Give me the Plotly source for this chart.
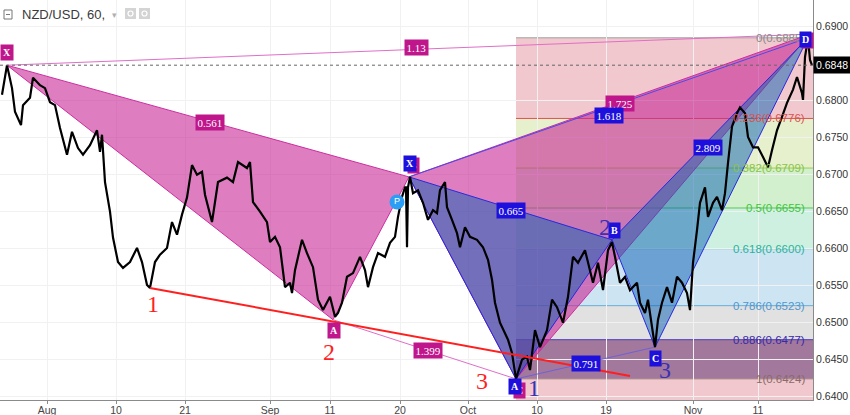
import plotly.graph_objects as go

# ---------------- data ----------------
bar_index = [2, 3, 7, 12, 15, 21, 23, 30, 33, 40, 45, 50, 55, 60, 67, 72, 78, 83, 90, 97, 100, 102,
             105, 110, 113, 118, 123, 130, 137, 142, 147, 150, 155, 160, 167, 172, 177, 182, 187, 192,
             197, 202, 205, 212, 218, 227, 233, 238, 247, 250, 253, 260, 267, 270,
             275, 280, 285, 290, 292, 295, 302, 307, 313, 318, 323, 330, 335, 338, 342, 347, 353, 360,
             365, 368, 373, 378, 385, 390, 395, 398, 402, 405, 406, 407, 408, 410, 413, 418, 423, 428,
             433, 437, 440, 445, 447, 452, 457, 460, 465, 470, 477, 483, 488, 492, 495, 500, 505, 508,
             512, 515, 516, 522, 527, 530, 535, 540,
             547, 552, 557, 563, 568, 573, 578, 585, 590, 593, 598, 603, 608, 612, 615, 620, 625, 630,
             637, 640, 645, 648, 655, 658, 662, 667, 672, 677, 682, 687, 690, 693, 697, 700, 705, 708,
             713, 717, 722, 725, 728, 732, 737, 740, 745, 748, 753, 758, 763, 768, 772, 777, 782, 787,
             793, 797, 802, 803, 805, 808, 810, 812]
close = [0.6808, 0.6817, 0.6848, 0.6817, 0.6785, 0.6767, 0.6794, 0.6804, 0.6831, 0.6821, 0.6817,
         0.6798, 0.6794, 0.6763, 0.6727, 0.6758, 0.6736, 0.6727, 0.6740, 0.6760, 0.6731, 0.6754,
         0.6690, 0.6650, 0.6615, 0.6582, 0.6574, 0.6582, 0.6601, 0.6582, 0.6551, 0.6547, 0.6582,
         0.6592, 0.6601, 0.6636, 0.6619, 0.6646, 0.6669, 0.6713, 0.6700, 0.6704, 0.6673, 0.6636,
         0.6690, 0.6696, 0.6690, 0.6717, 0.6709, 0.6717, 0.6663, 0.6650, 0.6636, 0.6609,
         0.6616, 0.6602, 0.6548, 0.6554, 0.6540, 0.6571, 0.6612, 0.6594, 0.6575, 0.6531, 0.6517,
         0.6535, 0.6508, 0.6513, 0.6527, 0.6562, 0.6567, 0.6589, 0.6571, 0.6548, 0.6575, 0.6594,
         0.6589, 0.6608, 0.6616, 0.6643, 0.6670, 0.6683, 0.6683, 0.6602, 0.6683, 0.6697, 0.6675,
         0.6679, 0.6662, 0.6639, 0.6652, 0.6648, 0.6679, 0.6690, 0.6656, 0.6639, 0.6621, 0.6602,
         0.6629, 0.6616, 0.6612, 0.6602, 0.6585, 0.6558, 0.6527, 0.6500, 0.6486, 0.6477, 0.6459,
         0.6432, 0.6424, 0.6450, 0.6454, 0.6436, 0.6490, 0.6467,
         0.6490, 0.6531, 0.6521, 0.6500, 0.6535, 0.6589, 0.6581, 0.6598, 0.6571, 0.6554, 0.6581,
         0.6544, 0.6598, 0.6609, 0.6589, 0.6554, 0.6562, 0.6544, 0.6554, 0.6527, 0.6513, 0.6531,
         0.6467, 0.6504, 0.6527, 0.6548, 0.6527, 0.6562, 0.6554, 0.6540, 0.6517, 0.6581, 0.6625,
         0.6662, 0.6683, 0.6643, 0.6662, 0.6670, 0.6652, 0.6675, 0.6716, 0.6765, 0.6783, 0.6791,
         0.6783, 0.6751, 0.6737, 0.6737, 0.6724, 0.6710, 0.6733, 0.6760, 0.6778, 0.6797, 0.6815,
         0.6832, 0.6810, 0.6801, 0.6859, 0.6885, 0.6855, 0.6848]

x_tick_pos = [47, 116, 185, 270, 330, 400, 468, 537, 606, 693, 758]
x_tick_text = ["Aug", "10", "21", "Sep", "11", "20", "Oct", "10", "19", "Nov", "11"]
y_tick_vals = [0.6400, 0.6450, 0.6500, 0.6550, 0.6600, 0.6650, 0.6700, 0.6750, 0.6800, 0.6900]

# pink XABCD pattern
pink_x = [7, 333, 409, 516, 810]
pink_y = [0.6848, 0.6504, 0.6697, 0.6424, 0.6890]
pink_ratios = ["0.561", "1.399", "1.725", "1.13"]      # XB, AC, BD, XD
# blue XABCD pattern
blue_x = [409, 516, 612, 655, 808]
blue_y = [0.6697, 0.6424, 0.6612, 0.6467, 0.6885]
blue_ratios = ["0.665", "0.791", "2.809", "1.618"]
point_names = ["X", "A", "B", "C", "D"]

# fibonacci retracement
fib_levels = [0, 0.236, 0.382, 0.5, 0.618, 0.786, 0.886, 1]
fib_prices = [0.6885, 0.6776, 0.6709, 0.6655, 0.6600, 0.6523, 0.6477, 0.6424]
fib_start = 516

# red trend line (1-2-3)
trend_x = [150, 630]
trend_y = [0.6547, 0.6428]

p_marker_x = [397]
p_marker_y = [0.6663]

last_price = 0.6848

# ---------------- styles ----------------
X_MAX = 813
Y_MIN, Y_MAX = 0.63955, 0.69361
PINK_FILL = "rgba(200,40,150,0.6)"
PINK_LINE = "rgba(205,45,160,1)"
PINK_LABEL = "#c0168c"
BLUE_FILL = "rgba(10,95,180,0.5)"
BLUE_LINE = "#2828e0"
BLUE_LABEL = "#1e10dc"
fib_fill = ["rgba(212,98,112,0.35)", "rgba(166,201,76,0.28)", "rgba(94,201,76,0.28)",
            "rgba(76,201,148,0.28)", "rgba(76,158,208,0.28)", "rgba(148,148,148,0.28)",
            "rgba(100,30,90,0.6)"]
fib_bottom_fill = "rgba(212,98,112,0.35)"
fib_line_col = ["#a0a0a0", "#e0524f", "#9bd14a", "#55c955", "#3cc8a0", "#6aaed6", "#4a3ab8", "#b09090"]
fib_text_col = ["#8a8a8a", "#d9534f", "#8bc34a", "#3ec43e", "#2bb39a", "#4f97cf", "#3a2aa8", "#8a6a6a"]

fig = go.Figure()
shapes = []
annotations = []

# fib zones
for i in range(len(fib_prices) - 1):
    shapes.append(dict(type="rect", xref="x", yref="y", x0=fib_start, x1=X_MAX,
                       y0=fib_prices[i + 1], y1=fib_prices[i], fillcolor=fib_fill[i],
                       line=dict(width=0), layer="below"))
shapes.append(dict(type="rect", xref="x", yref="y", x0=fib_start, x1=X_MAX,
                   y0=Y_MIN, y1=fib_prices[-1], fillcolor=fib_bottom_fill,
                   line=dict(width=0), layer="below"))
for i, p in enumerate(fib_prices):
    shapes.append(dict(type="line", xref="x", yref="y", x0=fib_start, x1=X_MAX, y0=p, y1=p,
                       line=dict(color=fib_line_col[i], width=1), layer="below"))
    annotations.append(dict(x=807, y=p, xref="x", yref="y", xanchor="right", yanchor="middle",
                            text=f"{fib_levels[i]:g}({p:.4f})", showarrow=False,
                            font=dict(family="Liberation Sans, Arial", size=11.5,
                                      color=fib_text_col[i])))


def triangle(xs, ys, idx, fill, line):
    fig.add_trace(go.Scatter(x=[xs[i] for i in idx] + [xs[idx[0]]],
                             y=[ys[i] for i in idx] + [ys[idx[0]]],
                             mode="lines", fill="toself", fillcolor=fill,
                             line=dict(color=line, width=1), hoverinfo="skip", showlegend=False))


def seg(xs, ys, a, b, color, width=1):
    fig.add_trace(go.Scatter(x=[xs[a], xs[b]], y=[ys[a], ys[b]], mode="lines",
                             line=dict(color=color, width=width), hoverinfo="skip", showlegend=False))


# pink pattern
triangle(pink_x, pink_y, [0, 1, 2], PINK_FILL, PINK_LINE)
triangle(pink_x, pink_y, [2, 3, 4], PINK_FILL, PINK_LINE)
seg(pink_x, pink_y, 1, 3, "rgba(225,110,200,1)")
seg(pink_x, pink_y, 0, 4, "rgba(225,110,200,1)")
# blue pattern
triangle(blue_x, blue_y, [0, 1, 2], BLUE_FILL, BLUE_LINE)
triangle(blue_x, blue_y, [2, 3, 4], BLUE_FILL, BLUE_LINE)
seg(blue_x, blue_y, 1, 3, "#7060d8")
seg(blue_x, blue_y, 0, 4, "#4a4ae8")

# price
fig.add_trace(go.Scatter(x=bar_index, y=close, mode="lines",
                         line=dict(color="black", width=2.2), hoverinfo="skip", showlegend=False))

# red trend line
fig.add_trace(go.Scatter(x=trend_x, y=trend_y, mode="lines",
                         line=dict(color="#ff1f1f", width=2), hoverinfo="skip", showlegend=False))

# last price line
fig.add_trace(go.Scatter(x=[0, X_MAX], y=[last_price, last_price], mode="lines",
                         line=dict(color="#666666", width=1, dash="dot"),
                         hoverinfo="skip", showlegend=False))

# P marker
fig.add_trace(go.Scatter(x=p_marker_x, y=p_marker_y, mode="markers+text", text=["P"],
                         textposition="middle center",
                         textfont=dict(color="white", size=9, family="Liberation Sans, Arial"),
                         marker=dict(size=15, color="#2a9df4"), hoverinfo="skip", showlegend=False))

# ratio labels at segment midpoints
ratio_segs = [(0, 2), (1, 3), (2, 4), (0, 4)]
pink_ratio_shift = [(2, -1), (3, -1), (10, 2), (8, 2)]
blue_ratio_shift = [(0, -2), (0, 0), (-2, -9), (0, -8)]


def ratio_labels(xs, ys, ratios, bg, shifts):
    for (a, b), r, (sx, sy) in zip(ratio_segs, ratios, shifts):
        annotations.append(dict(x=(xs[a] + xs[b]) / 2, y=(ys[a] + ys[b]) / 2, xref="x", yref="y",
                                text=r, showarrow=False, bgcolor=bg, borderpad=1.5,
                                xshift=sx, yshift=sy,
                                font=dict(color="white", size=11, family="Liberation Serif, serif")))


ratio_labels(pink_x, pink_y, pink_ratios, PINK_LABEL, pink_ratio_shift)
ratio_labels(blue_x, blue_y, blue_ratios, BLUE_LABEL, blue_ratio_shift)

# point labels
pink_pt_shift = [(0, 13), (1, -11), (4, 11), (3, -12), (-3, -6)]
blue_pt_shift = [(1, 13), (-1, -8), (2, 9), (0, -11), (-3, -2)]


def point_labels(xs, ys, bg, shifts):
    for x, y, n, (sx, sy) in zip(xs, ys, point_names, shifts):
        annotations.append(dict(x=x, y=y, xref="x", yref="y", text=f"<b>{n}</b>", showarrow=False,
                                bgcolor=bg, borderpad=2, xshift=sx, yshift=sy,
                                font=dict(color="white", size=10, family="Liberation Serif, serif")))


point_labels(pink_x, pink_y, PINK_LABEL, pink_pt_shift)
point_labels(blue_x, blue_y, BLUE_LABEL, blue_pt_shift)

# wave numbers
red_nums = [("1", trend_x[0], trend_y[0], 3, -16), ("2", pink_x[1], pink_y[1], -4, -32),
            ("3", blue_x[1], blue_y[1], -34, -2)]
blue_nums = [("1", blue_x[1], blue_y[1], 18, -9), ("2", blue_x[2], blue_y[2], -7, 13),
             ("3", blue_x[3], blue_y[3], 10, -23)]
for nums, col in ((red_nums, "#ff1f1f"), (blue_nums, "#3b2fb5")):
    for t, x, y, sx, sy in nums:
        annotations.append(dict(x=x, y=y, xref="x", yref="y", text=t, showarrow=False,
                                xshift=sx, yshift=sy,
                                font=dict(color=col, size=24, family="Liberation Serif, serif")))

# price tag on axis
annotations.append(dict(x=1, y=last_price, xref="paper", yref="y", xanchor="left", yanchor="middle",
                        text=f"{last_price:.4f}", showarrow=False, bgcolor="black", borderpad=2,
                        font=dict(color="white", size=10.5, family="Liberation Sans, Arial")))

# title
annotations.append(dict(x=20, y=1 - 15 / 400, xref="x", yref="paper", xanchor="left",
                        yanchor="middle", text="NZD/USD, 60,", showarrow=False,
                        font=dict(color="#3a3a3a", size=13, family="Liberation Sans, Arial")))
annotations.append(dict(x=114, y=1 - 15 / 400, xref="x", yref="paper", xanchor="center",
                        yanchor="middle", text="▾", showarrow=False,
                        font=dict(color="#b0b0b0", size=9, family="DejaVu Sans")))
shapes.append(dict(type="rect", xref="x", yref="paper", x0=4, x1=12, y0=1 - 19 / 400,
                   y1=1 - 10 / 400, line=dict(color="#777", width=1), fillcolor="white"))
shapes.append(dict(type="line", xref="x", yref="paper", x0=6, x1=10, y0=1 - 14.5 / 400,
                   y1=1 - 14.5 / 400, line=dict(color="#777", width=1)))
for bx in (125, 139):
    shapes.append(dict(type="rect", xref="x", yref="paper", x0=bx, x1=bx + 11, y0=1 - 19 / 400,
                       y1=1 - 8 / 400, line=dict(width=0), fillcolor="#d4d4d4"))
    shapes.append(dict(type="circle", xref="x", yref="paper", x0=bx + 3, x1=bx + 8,
                       y0=1 - 16 / 400, y1=1 - 11 / 400, line=dict(color="white", width=1.2)))

fig.update_layout(
    width=850, height=415,
    margin=dict(l=0, r=37, t=0, b=15),
    paper_bgcolor="white", plot_bgcolor="white",
    showlegend=False,
    shapes=shapes, annotations=annotations,
    xaxis=dict(range=[0, X_MAX], tickmode="array", tickvals=x_tick_pos, ticktext=x_tick_text,
               showgrid=True, gridcolor="#f1f1f1", zeroline=False, showline=True,
               linecolor="#8a8a8a", ticks="outside", ticklen=3, tickcolor="#8a8a8a",
               ticklabelstandoff=-3,
               tickfont=dict(size=10.5, color="#444", family="Liberation Sans, Arial"),
               fixedrange=True),
    yaxis=dict(range=[Y_MIN, Y_MAX], side="right", tickmode="array", tickvals=y_tick_vals,
               tickformat=".4f", showgrid=True, gridcolor="#f1f1f1", zeroline=False,
               showline=True, linecolor="#8a8a8a", ticks="",
               tickfont=dict(size=10.5, color="#333", family="Liberation Sans, Arial"),
               fixedrange=True),
)

fig.write_html("out.html", config={"displayModeBar": False},
               post_script="document.body.style.margin='0';")
